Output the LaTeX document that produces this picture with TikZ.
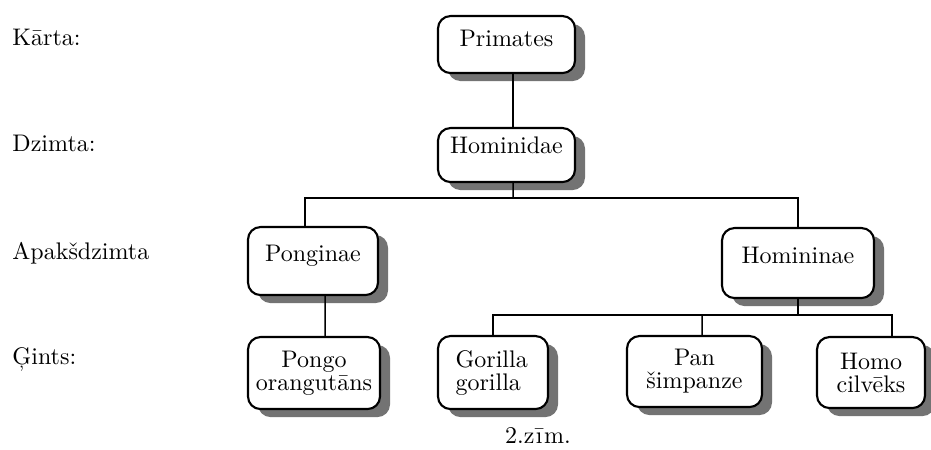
\documentclass[tikz,border=0pt]{standalone}
\usepackage{fontspec}
\usetikzlibrary{shadows}
\begin{document}
\begin{tikzpicture}[x=0.4pt,y=-0.4pt,
  taxbox/.style={draw, line width=0.85pt, rounded corners=5pt, fill=white,
    inner xsep=0pt, inner ysep=0pt, anchor=north,
    font=\fontsize{9.6}{9.2}\selectfont,
    drop shadow={shadow xshift=4pt, shadow yshift=-3.2pt, fill=black!55, opacity=1}},
  conn/.style={line width=0.6pt},
  rowlabel/.style={anchor=base west, inner sep=0pt, font=\fontsize{9.6}{11}\selectfont}]
\useasboundingbox (0,0) rectangle (931,450);

% left labels
\node[rowlabel] (lK) at (12,46) {Kārta:};
\node[rowlabel] (lD) at (12,152) {Dzimta:};
\node[rowlabel] (lA) at (12,260) {Apakšdzimta};
\node[rowlabel] (lG) at (12,365) {Ģints:};

% boxes
\node[taxbox, minimum width=54.8pt, text height=12pt, text depth=10.8pt] (Primates) at (506.5,15) {Primates};
\node[taxbox, minimum width=54.8pt, text height=10pt, text depth=11.6pt] (Hominidae) at (506.5,127) {Hominidae};
\node[taxbox, minimum width=52pt, text height=13.6pt, text depth=13.6pt] (Ponginae) at (313,226) {Ponginae};
\node[taxbox, minimum width=60.8pt, text height=14pt, text depth=14pt] (Homininae) at (798,227) {Homininae};
\node[taxbox, minimum width=52.8pt, minimum height=28.8pt, align=center] (Pongo) at (314,336) {Pongo\\orangutāns};
\node[taxbox, minimum width=44pt, minimum height=29.2pt, text width=30pt, align=left] (Gorilla) at (493,335) {Gorilla\\gorilla};
\node[taxbox, minimum width=54pt, minimum height=28.4pt, align=center] (Pan) at (694.5,335) {Pan\\šimpanze};
\node[taxbox, minimum width=43.2pt, minimum height=28.4pt, align=center] (Homo) at (871,336) {Homo\\cilvēks};

% junctions
\coordinate (busT) at (513,198);
\coordinate (busB) at (798,315);
\coordinate (panJ) at (702,315);

% connectors
\draw[conn] ([xshift=2.6pt]Primates.south) -- ([xshift=2.6pt]Hominidae.north);
\draw[conn] ([xshift=2.6pt]Hominidae.south) -- (busT);
\draw[conn] ([xshift=-3.2pt]Ponginae.north) |- (busT) -| (Homininae.north);
\draw[conn] ([xshift=4.8pt]Ponginae.south) -- ([xshift=4.4pt]Pongo.north);
\draw[conn] (Homininae.south) -- (busB);
\draw[conn] (Gorilla.north) |- (busB) -| ([xshift=8.4pt]Homo.north);
\draw[conn] ([xshift=3pt]Pan.north) -- (panJ);

% caption
\node[anchor=base, inner sep=0pt, font=\fontsize{9.6}{11}\selectfont] (cap) at (538,444) {2.z\kern0.6pt ī\kern0.6pt m.};
\end{tikzpicture}
\end{document}
